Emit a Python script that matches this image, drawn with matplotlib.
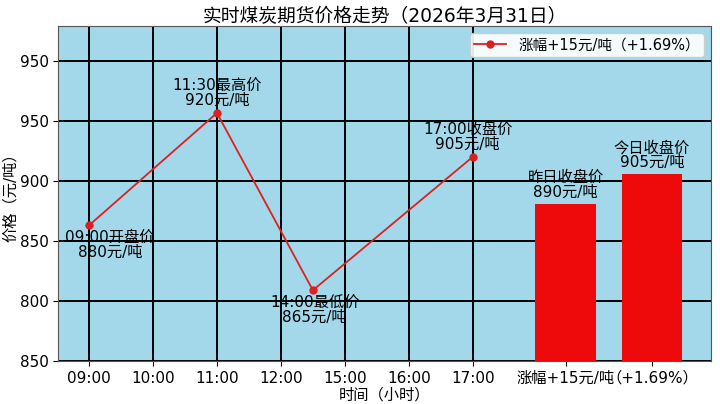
import matplotlib
matplotlib.use('Agg')
import matplotlib.pyplot as plt

plt.rcParams['font.family'] = ['DejaVu Sans', 'Noto Sans CJK SC']

# 折线数据 (位置, 价格)
time_ticks = ['09:00', '10:00', '11:00', '12:00', '15:00', '16:00', '17:00']
line_x = [0, 2, 3.5, 6]
line_y = [863, 956.5, 809, 920]
line_text = ['09:00开盘价\n880元/吨', '11:30最高价\n920元/吨',
             '14:00最低价\n865元/吨', '17:00收盘价\n905元/吨']

# 柱状数据
bar_x = [7.45, 8.8]
bar_y = [881, 906]
bar_text = ['昨日收盘价\n890元/吨', '今日收盘价\n905元/吨']
bar_ticks = ['涨幅+15元/吨', '（+1.69%）']

# y轴刻度 (图上标的就是这样)
y_ticks = [750, 800, 850, 900, 950, 1000]
y_labels = ['850', '800', '850', '900', '950', '950']

fig, ax = plt.subplots(figsize=(7.2, 4.04), dpi=100)
fig.subplots_adjust(left=0.081, right=0.988, top=0.936, bottom=0.106)
ax.set_facecolor('#a2d8ea')

ax.bar(bar_x, [v - 750 for v in bar_y], bottom=750, width=0.94,
       color='#ee0a0a', zorder=3)
ax.plot(line_x, line_y, color='#dd2020', lw=1.3, marker='o', ms=5,
        zorder=4, label='涨幅+15元/吨（+1.69%）')

# 标注
offs = [(0.33, -4), (0, 4), (0.03, -4), (-0.08, 4)]
for x, y, t, (dx, dy) in zip(line_x, line_y, line_text, offs):
    va = 'top' if dy < 0 else 'bottom'
    ax.text(x + dx, y + dy, t, ha='center', va=va, fontsize=11,
            linespacing=1.0, zorder=5)
for x, y, t in zip(bar_x, bar_y, bar_text):
    ax.text(x, y + 3, t, ha='center', va='bottom', fontsize=11,
            linespacing=1.0, zorder=5)

ax.set_xticks(list(range(7)) + bar_x)
ax.set_xticklabels(time_ticks + bar_ticks, fontsize=11)
ax.set_yticks(y_ticks)
ax.set_yticklabels(y_labels, fontsize=11)
ax.set_xlim(-0.48, 9.73)
ax.set_ylim(750, 1029)

ax.grid(True, color='black', lw=1.4, zorder=1)
ax.set_axisbelow(True)
for gl in ax.get_xgridlines()[7:]:
    gl.set_visible(False)
for s in ax.spines.values():
    s.set_color('#555555')

ax.set_title('实时煤炭期货价格走势（2026年3月31日）', fontsize=13.5, pad=3)
ax.set_xlabel('时间（小时）', fontsize=11, labelpad=1)
ax.set_ylabel('价格（元/吨）', fontsize=11, labelpad=1)
ax.legend(loc='upper right', fontsize=10.5, framealpha=0.9,
          borderpad=0.3, handlelength=2.2)

fig.savefig('out.png', dpi=100)
